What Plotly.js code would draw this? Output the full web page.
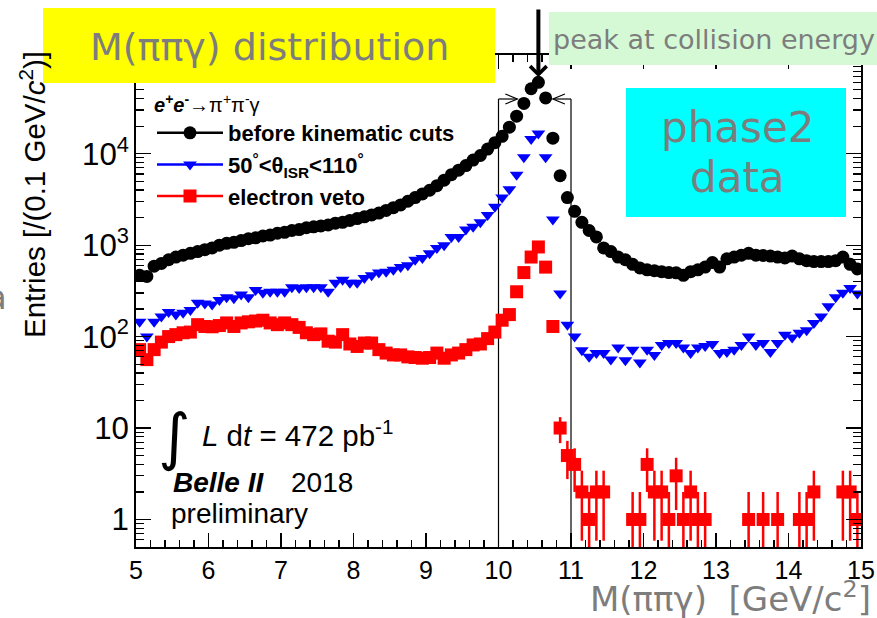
<!DOCTYPE html>
<html>
<head>
<meta charset="utf-8">
<script src="https://cdn.plot.ly/plotly-3.0.1.min.js"></script>
<style>
  html, body { margin: 0; padding: 0; background: #ffffff; }
  #chart { width: 877px; height: 618px; }
</style>
</head>
<body>
<div id="chart"></div>
<script>
// Bin centres of M(pi pi gamma) histogram, 0.1 GeV/c^2 bins from 5 to 15
const binCenters = [
  5.05, 5.15, 5.25, 5.35, 5.45, 5.55, 5.65, 5.75, 5.85, 5.95,
  6.05, 6.15, 6.25, 6.35, 6.45, 6.55, 6.65, 6.75, 6.85, 6.95,
  7.05, 7.15, 7.25, 7.35, 7.45, 7.55, 7.65, 7.75, 7.85, 7.95,
  8.05, 8.15, 8.25, 8.35, 8.45, 8.55, 8.65, 8.75, 8.85, 8.95,
  9.05, 9.15, 9.25, 9.35, 9.45, 9.55, 9.65, 9.75, 9.85, 9.95,
  10.05, 10.15, 10.25, 10.35, 10.45, 10.55, 10.65, 10.75, 10.85, 10.95,
  11.05, 11.15, 11.25, 11.35, 11.45, 11.55, 11.65, 11.75, 11.85, 11.95,
  12.05, 12.15, 12.25, 12.35, 12.45, 12.55, 12.65, 12.75, 12.85, 12.95,
  13.05, 13.15, 13.25, 13.35, 13.45, 13.55, 13.65, 13.75, 13.85, 13.95,
  14.05, 14.15, 14.25, 14.35, 14.45, 14.55, 14.65, 14.75, 14.85, 14.95
];

// Entries before kinematic cuts
const beforeCuts = [
  468, 455, 589, 631, 692, 741, 776, 813, 851, 891,
  933, 1000, 1047, 1072, 1122, 1175, 1202, 1259, 1288, 1349,
  1380, 1445, 1479, 1549, 1585, 1622, 1660, 1738, 1778, 1862,
  1950, 2042, 2138, 2239, 2399, 2570, 2754, 3020, 3311, 3631,
  3981, 4467, 5129, 5888, 6607, 7413, 8511, 9550, 11220, 13183,
  15488, 19498, 25704, 35481, 51286, 60256, 40738, 14791, 5754, 3311,
  2344, 1778, 1445, 1230, 933, 851, 741, 692, 617, 562,
  537, 525, 513, 501, 498, 468, 513, 537, 575, 646,
  575, 708, 741, 776, 813, 776, 770, 759, 741, 724,
  759, 708, 676, 661, 661, 661, 676, 741, 617, 550
];

// Entries with 50 deg < theta_ISR < 110 deg
const thetaCut = [
  145, 100, 145, 166, 186, 174, 182, 195, 234, 230,
  224, 251, 269, 263, 288, 269, 324, 302, 309, 309,
  309, 347, 339, 347, 347, 347, 309, 389, 417, 389,
  389, 437, 468, 501, 513, 537, 575, 603, 692, 724,
  813, 933, 1000, 1230, 1230, 1479, 1585, 1778, 2138, 2630,
  3311, 4074, 5888, 9120, 14454, 16596, 9120, 1905, 295, 135,
  100, 71, 60, 66, 66, 56, 76, 55, 72, 52,
  72, 63, 81, 85, 85, 76, 66, 76, 79, 83,
  66, 68, 72, 81, 100, 81, 85, 68, 85, 105,
  98, 110, 117, 141, 166, 214, 269, 302, 339, 295
];

// Entries after the electron veto (empty bins are null)
const electronVeto = [
  72, 56, 72, 87, 100, 105, 110, 112, 135, 129,
  128, 132, 141, 129, 141, 145, 148, 151, 141, 135,
  141, 135, 126, 110, 105, 107, 89, 87, 105, 83,
  78, 85, 85, 72, 66, 63, 63, 60, 59, 58,
  59, 66, 58, 63, 66, 72, 81, 83, 95, 112,
  151, 174, 309, 501, 741, 955, 575, 129, 10, 5,
  4, 2, 1, 2, 2, null, null, null, 1, 1,
  4, 2, 2, 1, 3, 1, 2, 1, 1, null,
  null, null, null, null, 1, null, 1, null, 1, null,
  null, 1, 1, 2, null, null, null, 2, 2, 1
];

const seriesNames = [
  '<b>before kinematic cuts</b>',
  '<b>50<sup>°</sup>&lt;θ<sub>ISR</sub>&lt;110<sup>°</sup></b>',
  '<b>electron veto</b>'
];
const seriesColors = ['#000000', '#0000ff', '#ff0000'];
const seriesSymbols = ['circle', 'triangle-down', 'square'];
const seriesSizes = [13, 12, 13];
const seriesData = [beforeCuts, thetaCut, electronVeto];

// Signal window around the collision energy
const windowEdges = [10, 11];

// Plot-area geometry helpers (pixel -> paper fraction)
const M = { l: 136, r: 16, t: 55, b: 71 };
const W = 877, H = 618;
const PW = W - M.l - M.r, PH = H - M.t - M.b;
const px2x = p => (p - M.l) / PW;
const py2y = p => (H - M.b - p) / PH;

const traces = [];
seriesData.forEach((vals, k) => {
  const tr = {
    type: 'scatter', mode: 'markers',
    x: binCenters, y: vals,
    name: seriesNames[k], showlegend: false,
    marker: { color: seriesColors[k], symbol: seriesSymbols[k], size: seriesSizes[k] },
    hoverinfo: 'x+y'
  };
  if (k === 2) {
    tr.error_y = { type: 'sqrt', visible: true, color: '#ff0000', thickness: 2.5, width: 0 };
  }
  traces.push(tr);
});
// legend entries drawn with line + marker
seriesData.forEach((vals, k) => {
  traces.push({
    type: 'scatter', mode: 'lines+markers',
    x: [null], y: [null],
    name: seriesNames[k], showlegend: true,
    line: { color: seriesColors[k], width: 2.5 },
    marker: { color: seriesColors[k], symbol: seriesSymbols[k], size: seriesSizes[k] }
  });
});

// bin with the largest yield marks the collision energy
let peakIdx = 0;
beforeCuts.forEach((v, i) => { if (v > beforeCuts[peakIdx]) peakIdx = i; });
const peakX = binCenters[peakIdx];

const gray = '#7d7d7d';
const slideFont = 'DejaVu Sans';
const rootFont = 'Liberation Sans, Arial, Helvetica, sans-serif';
const winTop = py2y(99);

const shapes = [
  // window boundaries
  ...windowEdges.map(e => ({
    type: 'line', xref: 'x', yref: 'paper', x0: e, x1: e, y0: 0, y1: winTop,
    line: { color: '#000', width: 1.2 }, layer: 'below'
  })),
  { type: 'line', xref: 'x', yref: 'paper', x0: windowEdges[0], x1: 10.26, y0: winTop, y1: winTop,
    line: { color: '#000', width: 1.2 } },
  { type: 'line', xref: 'x', yref: 'paper', x0: 10.75, x1: windowEdges[1], y0: winTop, y1: winTop,
    line: { color: '#000', width: 1.2 } },
  { type: 'path', xref: 'x', yref: 'paper', xsizemode: 'pixel', ysizemode: 'pixel',
    xanchor: 10.26, yanchor: winTop, path: 'M-12,5 L0,0 L-12,-5',
    line: { color: '#000', width: 1.2 } },
  { type: 'path', xref: 'x', yref: 'paper', xsizemode: 'pixel', ysizemode: 'pixel',
    xanchor: 10.75, yanchor: winTop, path: 'M12,5 L0,0 L12,-5',
    line: { color: '#000', width: 1.2 } },
  // coloured boxes
  { type: 'rect', xref: 'paper', yref: 'paper', x0: px2x(43), x1: px2x(495), y0: py2y(83), y1: py2y(8),
    fillcolor: '#ffff00', line: { width: 0 }, layer: 'above' },
  { type: 'rect', xref: 'paper', yref: 'paper', x0: px2x(549), x1: px2x(890), y0: py2y(65), y1: py2y(12),
    fillcolor: '#d5f9d5', line: { width: 0 }, layer: 'above' },
  { type: 'rect', xref: 'paper', yref: 'paper', x0: px2x(626), x1: px2x(846), y0: py2y(217), y1: py2y(88),
    fillcolor: '#00ffff', line: { width: 0 }, layer: 'above' }
];

const ann = (o) => Object.assign({ xref: 'paper', yref: 'paper', showarrow: false }, o);

const annotations = [
  ann({ text: 'M(ππγ) distribution', x: px2x(269), y: py2y(47), xanchor: 'center', yanchor: 'middle',
        font: { family: slideFont, size: 38, color: gray } }),
  ann({ text: 'peak at collision energy', x: px2x(551), y: py2y(39), xanchor: 'left', yanchor: 'middle',
        font: { family: slideFont, size: 27, color: gray } }),
  ann({ text: 'phase2', x: px2x(737), y: py2y(128), xanchor: 'center', yanchor: 'middle',
        font: { family: slideFont, size: 42, color: gray } }),
  ann({ text: 'data', x: px2x(737), y: py2y(177), xanchor: 'center', yanchor: 'middle',
        font: { family: slideFont, size: 42, color: gray } }),
  ann({ text: 'M(ππγ)  [GeV/c<sup>2</sup>]', x: px2x(873), y: py2y(597), xanchor: 'right', yanchor: 'middle',
        font: { family: slideFont, size: 34, color: gray } }),
  ann({ text: 'a', x: px2x(9), y: py2y(297), xanchor: 'right', yanchor: 'middle',
        font: { family: slideFont, size: 34, color: gray } }),
  ann({ text: 'Entries [/(0.1 GeV/<i>c</i><sup>2</sup>)]', textangle: -90,
        x: px2x(32), y: py2y(195), xanchor: 'center', yanchor: 'middle',
        font: { family: rootFont, size: 29.5, color: '#000' } }),
  ann({ text: '∫', x: px2x(174), y: py2y(436), xanchor: 'center', yanchor: 'middle',
        font: { family: 'DejaVu Sans', size: 62, color: '#000' } }),
  ann({ text: '<i>L</i> d<i>t</i> = 472 pb<sup>-1</sup>', x: px2x(200), y: py2y(433), xanchor: 'left', yanchor: 'middle',
        font: { family: rootFont, size: 29.5, color: '#000' } }),
  ann({ text: '<b><i>Belle II</i></b>', x: px2x(171), y: py2y(482), xanchor: 'left', yanchor: 'middle',
        font: { family: rootFont, size: 28, color: '#000' } }),
  ann({ text: '2018', x: px2x(289), y: py2y(482), xanchor: 'left', yanchor: 'middle',
        font: { family: rootFont, size: 28, color: '#000' } }),
  ann({ text: 'preliminary', x: px2x(169), y: py2y(513), xanchor: 'left', yanchor: 'middle',
        font: { family: rootFont, size: 28, color: '#000' } }),
  // arrow pointing at the collision-energy peak
  { text: '', xref: 'x', yref: 'paper', x: peakX, y: py2y(77), showarrow: true,
    ax: 0, ay: -69, arrowhead: 4, arrowsize: 0.8, arrowwidth: 4, arrowcolor: '#000' }
];

const axisCommon = {
  showline: true, linecolor: '#000', linewidth: 2, mirror: 'ticks',
  ticks: 'inside', tickcolor: '#000', tickwidth: 1.2,
  showgrid: false, zeroline: false,
  tickfont: { family: rootFont, size: 25, color: '#000' }
};

const layout = {
  width: W, height: H, autosize: false,
  margin: M,
  paper_bgcolor: '#ffffff', plot_bgcolor: '#ffffff',
  showlegend: true,
  legend: {
    x: px2x(152), y: py2y(86), xanchor: 'left', yanchor: 'top',
    bgcolor: 'rgba(0,0,0,0)', borderwidth: 0,
    itemwidth: 66, tracegroupgap: 0,
    font: { family: rootFont, size: 22, color: '#000' },
    title: { text: '<b><i>e</i><sup>+</sup><i>e</i><sup>-</sup></b>→π<sup>+</sup>π<sup>-</sup>γ',
             font: { family: rootFont, size: 20, color: '#000' } }
  },
  xaxis: Object.assign({}, axisCommon, {
    range: [5, 15], tick0: 5, dtick: 1, ticklen: 14,
    minor: { dtick: 0.2, ticks: 'inside', ticklen: 7, tickcolor: '#000', tickwidth: 1.2 }
  }),
  yaxis: Object.assign({}, axisCommon, {
    type: 'log', range: [Math.log10(0.5), Math.log10(1.2e5)],
    dtick: 1, exponentformat: 'power', ticklen: 15,
    minor: { dtick: 'D1', ticks: 'inside', ticklen: 8, tickcolor: '#000', tickwidth: 1.2 }
  }),
  shapes: shapes,
  annotations: annotations
};

Plotly.newPlot('chart', traces, layout, { displayModeBar: false, staticPlot: true });
</script>
</body>
</html>
